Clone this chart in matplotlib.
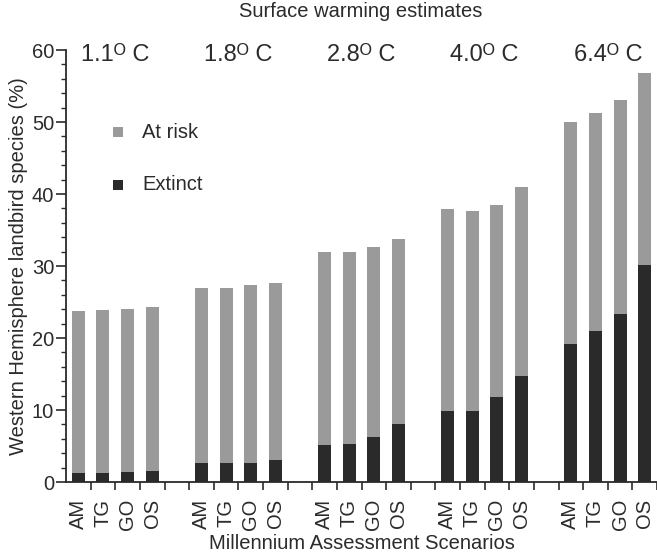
import matplotlib
matplotlib.use("Agg")
import matplotlib.pyplot as plt
from matplotlib.ticker import MultipleLocator, FixedLocator
from matplotlib.patches import Rectangle

plt.rcParams['font.family'] = ['Liberation Sans', 'DejaVu Sans']

warming = ["1.1", "1.8", "2.8", "4.0", "6.4"]
scenarios = ["AM", "TG", "GO", "OS"]

# Percent of species at risk (total) and extinct, per warming level and scenario
at_risk = [
    [23.8, 23.9, 24.0, 24.3],
    [27.0, 26.9, 27.3, 27.7],
    [32.0, 31.9, 32.7, 33.8],
    [37.9, 37.6, 38.5, 41.0],
    [50.0, 51.3, 53.0, 56.8],
]
extinct = [
    [1.3, 1.3, 1.4, 1.5],
    [2.7, 2.6, 2.7, 3.1],
    [5.1, 5.3, 6.3, 8.0],
    [9.9, 9.9, 11.8, 14.7],
    [19.1, 21.0, 23.3, 30.1],
]

grey = "#9a9a9a"
dark = "#2a2a2a"
txt = "#2b2b2b"
fs = 14.5

fig = plt.figure(figsize=(6.57, 5.53), dpi=100)
ax = fig.add_axes([66/657, 71/553, 1 - 66/657, 432/553])

bar_w = 0.53
centers, labels = [], []
group_centers = []
for g, (tot, ext) in enumerate(zip(at_risk, extinct)):
    start = g * 5
    for i, s in enumerate(scenarios):
        x = start + i + 0.5
        centers.append(x)
        labels.append(s)
        ax.bar(x, tot[i], width=bar_w, color=grey, linewidth=0, zorder=2)
        ax.bar(x, ext[i], width=bar_w, color=dark, linewidth=0, zorder=3)
    group_centers.append(start + 2)

ax.set_xlim(0, 24)
ax.set_ylim(0, 60)

for side in ("top", "right"):
    ax.spines[side].set_visible(False)
for side in ("left", "bottom"):
    ax.spines[side].set_linewidth(1.3)
    ax.spines[side].set_color(txt)

ax.yaxis.set_major_locator(MultipleLocator(10))
ax.yaxis.set_minor_locator(MultipleLocator(2))
ax.tick_params(axis="y", which="major", length=7, width=1.2, colors=txt,
               labelsize=fs, pad=1.5)
ax.tick_params(axis="y", which="minor", length=3.7, width=1.0, colors=txt)

ax.xaxis.set_major_locator(FixedLocator(centers))
ax.set_xticklabels(labels, rotation=90)
ax.xaxis.set_minor_locator(FixedLocator(list(range(1, 25))))
ax.tick_params(axis="x", which="major", length=0, labelsize=fs, pad=12,
               colors=txt)
ax.tick_params(axis="x", which="minor", length=5.5, width=1.2, colors=txt)

ax.set_ylabel("Western Hemisphere landbird species (%)", fontsize=fs,
              color=txt, labelpad=3)
ax.set_xlabel("Millennium Assessment Scenarios", fontsize=fs, color=txt,
              labelpad=3)

for gc, w in zip(group_centers, warming):
    ax.text(gc, 58.5, w + "\u1d3c C", ha="center", va="baseline",
            fontsize=17, color=txt)

fig.text(361 / 657, 1 - 17 / 553, "Surface warming estimates", ha="center",
         va="baseline", fontsize=fs, color=txt)

# legend swatches
for yc, col, name in ((132, grey, "At risk"), (185, dark, "Extinct")):
    fig.patches.append(Rectangle((113 / 657, 1 - (yc + 5) / 553), 10 / 657,
                                 10 / 553, transform=fig.transFigure,
                                 facecolor=col, edgecolor="none"))
    fig.text(142 / 657, 1 - yc / 553, name, ha="left", va="center",
             fontsize=fs, color=txt)

fig.savefig("out.png", dpi=100)
